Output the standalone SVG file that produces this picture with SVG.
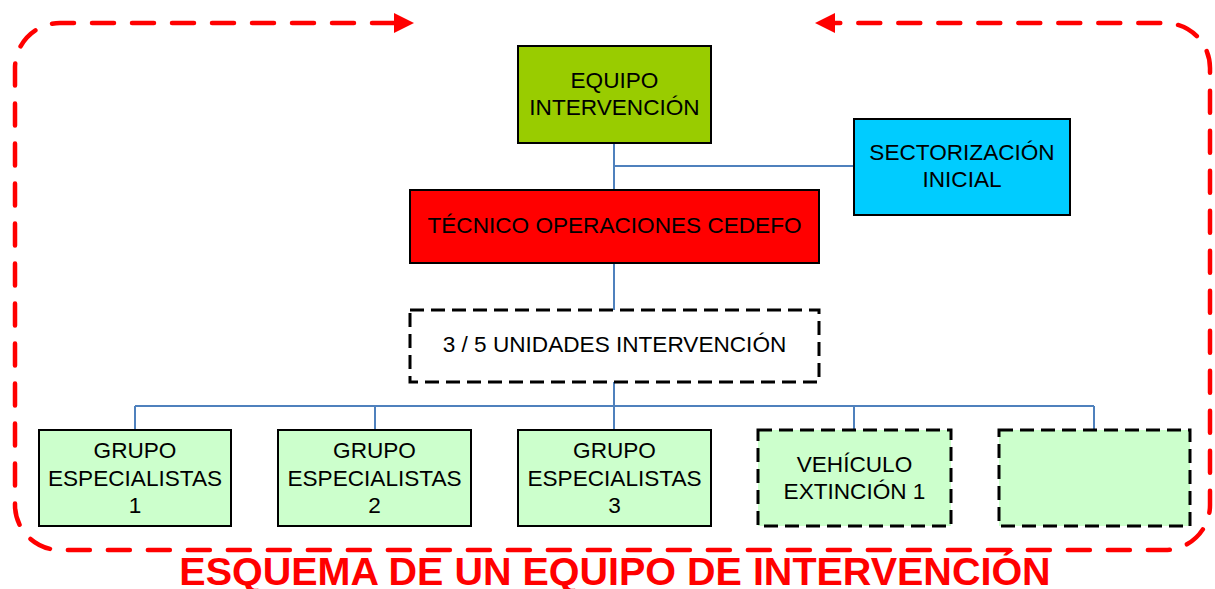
<svg xmlns="http://www.w3.org/2000/svg" width="1215" height="589" viewBox="0 0 1215 589">
<style>
.box{stroke:#000;stroke-width:2}
.dash{stroke:#000;stroke-width:3;stroke-dasharray:14 7}
.lbl{font-family:"Liberation Sans",Arial,sans-serif;font-size:22.6px;fill:#000;text-anchor:middle}
.conn{stroke:#4F81BD;stroke-width:2;fill:none}
.grp{fill:#CCFFCC}
</style>
<defs>
<marker id="arr" viewBox="0 0 20 20" refX="0" refY="10" markerWidth="20" markerHeight="20" markerUnits="userSpaceOnUse" orient="auto-start-reverse">
<path d="M0,0 L20,10 L0,20 z" fill="#FF0000"/>
</marker>
</defs>
<rect width="1215" height="589" fill="#fff"/>
<path id="loop" d="M394 23 H60 A45 45 0 0 0 15 68 V505 A45 45 0 0 0 60 550 H1165 A45 45 0 0 0 1210 505 V68 A45 45 0 0 0 1165 23 H835" fill="none" stroke="#FF0000" stroke-width="4.5" stroke-dasharray="22 18" stroke-linecap="round" marker-start="url(#arr)" marker-end="url(#arr)"/>
<g id="connectors">
<line class="conn" x1="614" y1="143" x2="614" y2="190"/>
<line class="conn" x1="614" y1="166" x2="854" y2="166"/>
<line class="conn" x1="614" y1="263" x2="614" y2="310"/>
<line class="conn" x1="614" y1="382" x2="614" y2="430"/>
<line class="conn" x1="135" y1="406" x2="1094" y2="406"/>
<line class="conn" x1="135" y1="406" x2="135" y2="430"/>
<line class="conn" x1="375" y1="406" x2="375" y2="430"/>
<line class="conn" x1="854" y1="406" x2="854" y2="430"/>
<line class="conn" x1="1094" y1="406" x2="1094" y2="430"/>
</g>
<g id="equipo">
<rect class="box" x="518" y="46" width="193" height="97" fill="#99CC00"/>
<text class="lbl" x="614.5" y="88">EQUIPO</text>
<text class="lbl" x="614.5" y="115">INTERVENCIÓN</text>
</g>
<g id="sectorizacion">
<rect class="box" x="854" y="119" width="216" height="96" fill="#00CCFF"/>
<text class="lbl" x="962" y="160">SECTORIZACIÓN</text>
<text class="lbl" x="962" y="187">INICIAL</text>
</g>
<g id="tecnico">
<rect class="box" x="410" y="190" width="409" height="73" fill="#FF0000"/>
<text class="lbl" x="614.5" y="233">TÉCNICO OPERACIONES CEDEFO</text>
</g>
<g id="unidades">
<rect class="dash" x="410" y="310" width="409" height="72" fill="#fff"/>
<text class="lbl" x="614.5" y="352">3 / 5 UNIDADES INTERVENCIÓN</text>
</g>
<g id="grupo1">
<rect class="box grp" x="39" y="430" width="192" height="96"/>
<text class="lbl" x="135" y="458">GRUPO</text>
<text class="lbl" x="135" y="485.5">ESPECIALISTAS</text>
<text class="lbl" x="135" y="513">1</text>
</g>
<g id="grupo2">
<rect class="box grp" x="278" y="430" width="193" height="96"/>
<text class="lbl" x="374.5" y="458">GRUPO</text>
<text class="lbl" x="374.5" y="485.5">ESPECIALISTAS</text>
<text class="lbl" x="374.5" y="513">2</text>
</g>
<g id="grupo3">
<rect class="box grp" x="518" y="430" width="193" height="96"/>
<text class="lbl" x="614.5" y="458">GRUPO</text>
<text class="lbl" x="614.5" y="485.5">ESPECIALISTAS</text>
<text class="lbl" x="614.5" y="513">3</text>
</g>
<g id="vehiculo1">
<rect class="dash grp" x="758" y="430" width="193" height="96"/>
<text class="lbl" x="854.5" y="472">VEHÍCULO</text>
<text class="lbl" x="854.5" y="499">EXTINCIÓN 1</text>
</g>
<g id="vacio">
<rect class="dash grp" x="999" y="430" width="191" height="96"/>
</g>
<text id="titulo" x="615" y="585" font-family="'Liberation Sans',Arial,sans-serif" font-size="39.5" font-weight="bold" fill="#FF0000" text-anchor="middle">ESQUEMA DE UN EQUIPO DE INTERVENCIÓN</text>
</svg>
